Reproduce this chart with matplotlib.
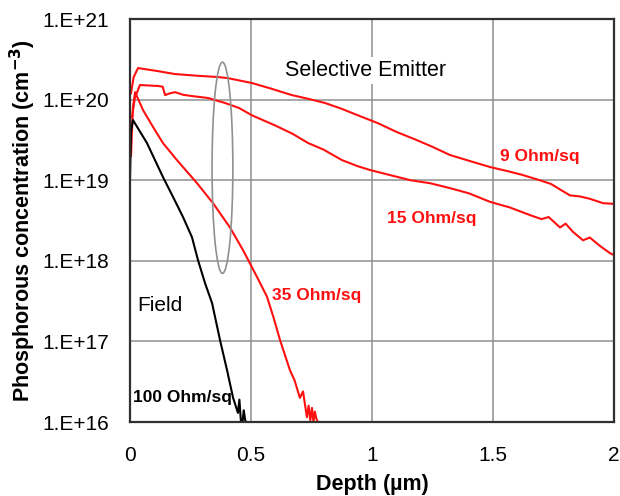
import numpy as np
import matplotlib
matplotlib.use("Agg")
import matplotlib.pyplot as plt
from matplotlib.patches import Ellipse
from matplotlib.ticker import FixedLocator, FixedFormatter

# ------------------ DATA ------------------
# 9 Ohm/sq (selective emitter)
depth_9 = [0.004, 0.015, 0.033, 0.116, 0.186, 0.28, 0.364, 0.405, 0.504, 0.58, 0.669, 0.74,
           0.806, 0.87, 0.942, 1.025, 1.10, 1.18, 1.25, 1.322, 1.40, 1.488, 1.56, 1.62, 1.694,
           1.74, 1.78, 1.818, 1.86, 1.90, 1.955, 2.0]
conc_9 = [1.2e20, 1.9e20, 2.47e20, 2.26e20, 2.08e20, 1.98e20, 1.91e20, 1.85e20, 1.61e20,
          1.38e20, 1.14e20, 1.02e20, 9.1e19, 7.8e19, 6.4e19, 5.1e19, 4.0e19, 3.2e19, 2.6e19,
          2.06e19, 1.75e19, 1.46e19, 1.3e19, 1.17e19, 1.0e19, 9.0e18, 7.6e18, 6.5e18, 6.3e18,
          5.9e18, 5.2e18, 5.1e18]

# 15 Ohm/sq (selective emitter)
depth_15 = [0.008, 0.02, 0.041, 0.116, 0.135, 0.145, 0.165, 0.186, 0.22, 0.256, 0.322, 0.393,
            0.45, 0.504, 0.599, 0.67, 0.736, 0.80, 0.876, 0.94, 0.992, 1.08, 1.16, 1.24, 1.322,
            1.40, 1.488, 1.57, 1.653, 1.70, 1.73, 1.777, 1.80, 1.83, 1.872, 1.90, 1.94, 1.983,
            2.0]
conc_15 = [6.0e19, 1.05e20, 1.52e20, 1.48e20, 1.45e20, 1.14e20, 1.2e20, 1.24e20, 1.15e20,
           1.11e20, 1.05e20, 9.1e19, 7.9e19, 6.4e19, 4.8e19, 3.8e19, 2.9e19, 2.4e19, 1.78e19,
           1.5e19, 1.34e19, 1.15e19, 1.0e19, 9.2e18, 8.0e18, 6.9e18, 5.4e18, 4.6e18, 3.7e18,
           3.3e18, 3.5e18, 2.6e18, 2.9e18, 2.3e18, 1.8e18, 1.95e18, 1.55e18, 1.25e18, 1.18e18]

# 35 Ohm/sq (selective emitter)
depth_35 = [0.004, 0.012, 0.021, 0.054, 0.095, 0.136, 0.194, 0.277, 0.343, 0.413, 0.467,
            0.525, 0.566, 0.595, 0.62, 0.661, 0.68, 0.702, 0.715, 0.731, 0.738, 0.745, 0.752,
            0.758, 0.764, 0.770, 0.777]
conc_35 = [2.0e19, 8.0e19, 1.24e20, 7.4e19, 4.6e19, 2.9e19, 1.78e19, 9.2e18, 5.2e18, 2.6e18,
           1.36e18, 6.3e17, 3.6e17, 1.9e17, 1.04e17, 4.4e16, 3.3e16, 2.0e16, 2.4e16, 1.15e16,
           1.6e16, 1.05e16, 1.5e16, 1.0e16, 1.35e16, 1.1e16, 1.0e16]

# 100 Ohm/sq (field)
depth_100 = [0.0, 0.004, 0.012, 0.070, 0.136, 0.178, 0.219, 0.256, 0.281, 0.310, 0.339, 0.372,
             0.401, 0.426, 0.446, 0.452, 0.458, 0.465, 0.47, 0.476, 0.48]
conc_100 = [1.0e19, 4.0e19, 5.6e19, 2.9e19, 1.1e19, 6.2e18, 3.5e18, 1.97e18, 1.02e18,
            5.3e17, 3.0e17, 1.04e17, 4.4e16, 2.0e16, 1.3e16, 1.9e16, 1.05e16, 1.0e16,
            1.4e16, 1.05e16, 1.0e16]

x_ticks = [0, 0.5, 1, 1.5, 2]
x_tick_labels = ["0", "0.5", "1", "1.5", "2"]
y_ticks = [1e16, 1e17, 1e18, 1e19, 1e20, 1e21]
y_tick_labels = ["1.E+16", "1.E+17", "1.E+18", "1.E+19", "1.E+20", "1.E+21"]
# ------------------------------------------

plt.rcParams['font.family'] = ['Liberation Sans', 'DejaVu Sans']

fig = plt.figure(figsize=(6.2, 4.96), dpi=100)
ax = fig.add_axes([0.2097, 0.149, 0.7806, 0.8125])

red = '#ff1010'
ax.plot(depth_9, conc_9, color=red, lw=1.5)
ax.plot(depth_15, conc_15, color=red, lw=1.5)
ax.plot(depth_35, conc_35, color=red, lw=1.5)
ax.plot(depth_100, conc_100, color='black', lw=1.5)

ax.set_yscale('log')
ax.set_xlim(0, 2)
ax.set_ylim(1e16, 1e21)
ax.xaxis.set_major_locator(FixedLocator(x_ticks))
ax.xaxis.set_major_formatter(FixedFormatter(x_tick_labels))
ax.yaxis.set_major_locator(FixedLocator(y_ticks))
ax.yaxis.set_major_formatter(FixedFormatter(y_tick_labels))
ax.yaxis.set_minor_locator(FixedLocator([]))
ax.tick_params(length=0, labelsize=15)
ax.tick_params(axis='x', pad=17)
ax.tick_params(axis='y', pad=15)
ax.grid(True, color='#909090', lw=1.1)
ax.set_axisbelow(True)
for s in ax.spines.values():
    s.set_color('#303030')
    s.set_linewidth(1.6)

ax.set_xlabel('Depth (µm)', fontsize=15.5, fontweight='bold', labelpad=7)
ax.set_ylabel('Phosphorous concentration (cm$^{\\mathbf{-3}}$)', fontsize=15.5,
              fontweight='bold', labelpad=3)

# highlight ellipse
ax.add_patch(Ellipse((0.191, 0.631), 0.043, 0.524, transform=ax.transAxes,
                     fill=False, edgecolor='#909090', lw=1.2, zorder=3))

ax.text(0.32, 0.873, 'Selective Emitter', transform=ax.transAxes, fontsize=15.5,
        ha='left', va='center', zorder=4,
        bbox=dict(facecolor='white', edgecolor='none', pad=2))
ax.text(0.764, 0.658, '9 Ohm/sq', transform=ax.transAxes, fontsize=12.5,
        fontweight='bold', color=red, ha='left', va='center')
ax.text(0.531, 0.506, '15 Ohm/sq', transform=ax.transAxes, fontsize=12.5,
        fontweight='bold', color=red, ha='left', va='center')
ax.text(0.293, 0.313, '35 Ohm/sq', transform=ax.transAxes, fontsize=12.5,
        fontweight='bold', color=red, ha='left', va='center')
ax.text(0.0145, 0.29, 'Field', transform=ax.transAxes, fontsize=15,
        ha='left', va='center')
ax.text(0.006, 0.06, '100 Ohm/sq', transform=ax.transAxes, fontsize=12.5,
        fontweight='bold', ha='left', va='center')

fig.savefig('out.png', dpi=100)
